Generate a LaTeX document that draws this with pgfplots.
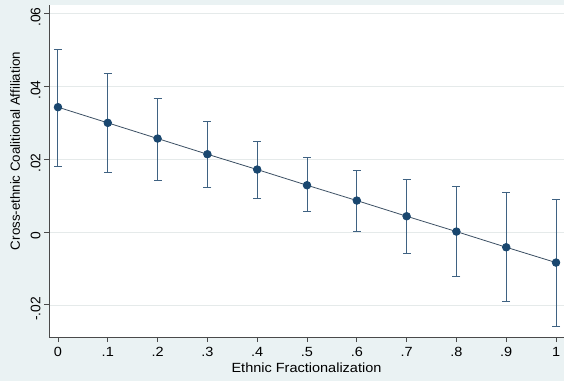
\documentclass[border=0pt]{standalone}
\usepackage{pgfplots}
\pgfplotsset{compat=1.18}
\usepackage{fontspec}
\setmainfont{Liberation Sans}
\newfontfamily\wide[FakeStretch=1.09]{Liberation Sans}
\definecolor{bgc}{HTML}{EAF2F3}
\definecolor{navy}{HTML}{1A476F}
\definecolor{barc}{HTML}{3F6282}
\definecolor{linec}{HTML}{3C5064}
\definecolor{axc}{HTML}{4A4A4A}
\begin{document}
\begin{tikzpicture}
\fill[bgc] (0,0) rectangle (564pt,381pt);
\begin{axis}[
  at={(49pt,44pt)}, anchor=south west,
  scale only axis, width=515pt, height=332pt,
  xmin=-0.018, xmax=1.016, ymin=-0.0288, ymax=0.0622,
  scaled y ticks=false, scaled x ticks=false,
  axis background/.style={fill=white},
  axis x line*=bottom, axis y line*=left,
  axis line style={axc, line width=0.8pt},
  xtick={0,0.1,...,1.0},
  xticklabels={0,.1,.2,.3,.4,.5,.6,.7,.8,.9,1},
  ytick={-0.02,0,0.02,0.04,0.06},
  yticklabels={-.02,0,.02,.04,.06},
  /pgf/number format/assume math mode=true,
  tick style={axc, line width=0.8pt},
  tick align=outside, major tick length=5pt,
  yticklabel style={rotate=90, anchor=south, xshift=-4pt, font=\fontsize{13.8}{14}\selectfont},
  xticklabel style={anchor=north, yshift=-2pt, font=\wide\fontsize{13.3}{14}\selectfont},
  ymajorgrids, grid style={bgc!80!gray!60, line width=0.6pt},
  xlabel={Ethnic Fractionalization},
  ylabel={Cross-ethnic Coalitional Affiliation},
  every axis x label/.style={at={(axis description cs:0.5,0)}, yshift=-31pt, anchor=center, font=\wide\fontsize{13.3}{14}\selectfont},
  every axis y label/.style={at={(axis description cs:0,0.56)}, xshift=-34pt, anchor=center, rotate=90, font=\fontsize{13.3}{14}\selectfont},
  clip=false,
]
\addplot+[linec, line width=0.8pt, mark=*, mark size=3.8pt,
  mark options={fill=navy, draw=navy},
  error bars/.cd, y dir=both, y explicit,
  error bar style={barc, line width=1pt},
  error mark options={barc, line width=1pt, mark size=4pt, rotate=90}]
table[x=x, y=y, y error plus expr=\thisrow{hi}-\thisrow{y}, y error minus expr=\thisrow{y}-\thisrow{lo}] {
x    y       lo       hi
0.0  0.0342  0.0178   0.0501
0.1  0.0299  0.0162   0.0433
0.2  0.0256  0.0142   0.0365
0.3  0.0213  0.0121   0.0302
0.4  0.0171  0.0093   0.0248
0.5  0.0128  0.0055   0.0203
0.6  0.0086  0.0001   0.0168
0.7  0.0043  -0.0058  0.0143
0.8  0.0001  -0.0123  0.0124
0.9  -0.0042 -0.0191  0.0107
1.0  -0.0084 -0.0260  0.0090
};
\end{axis}
\pgfresetboundingbox
\useasboundingbox (0,0) rectangle (564pt,381pt);
\end{tikzpicture}
\end{document}
